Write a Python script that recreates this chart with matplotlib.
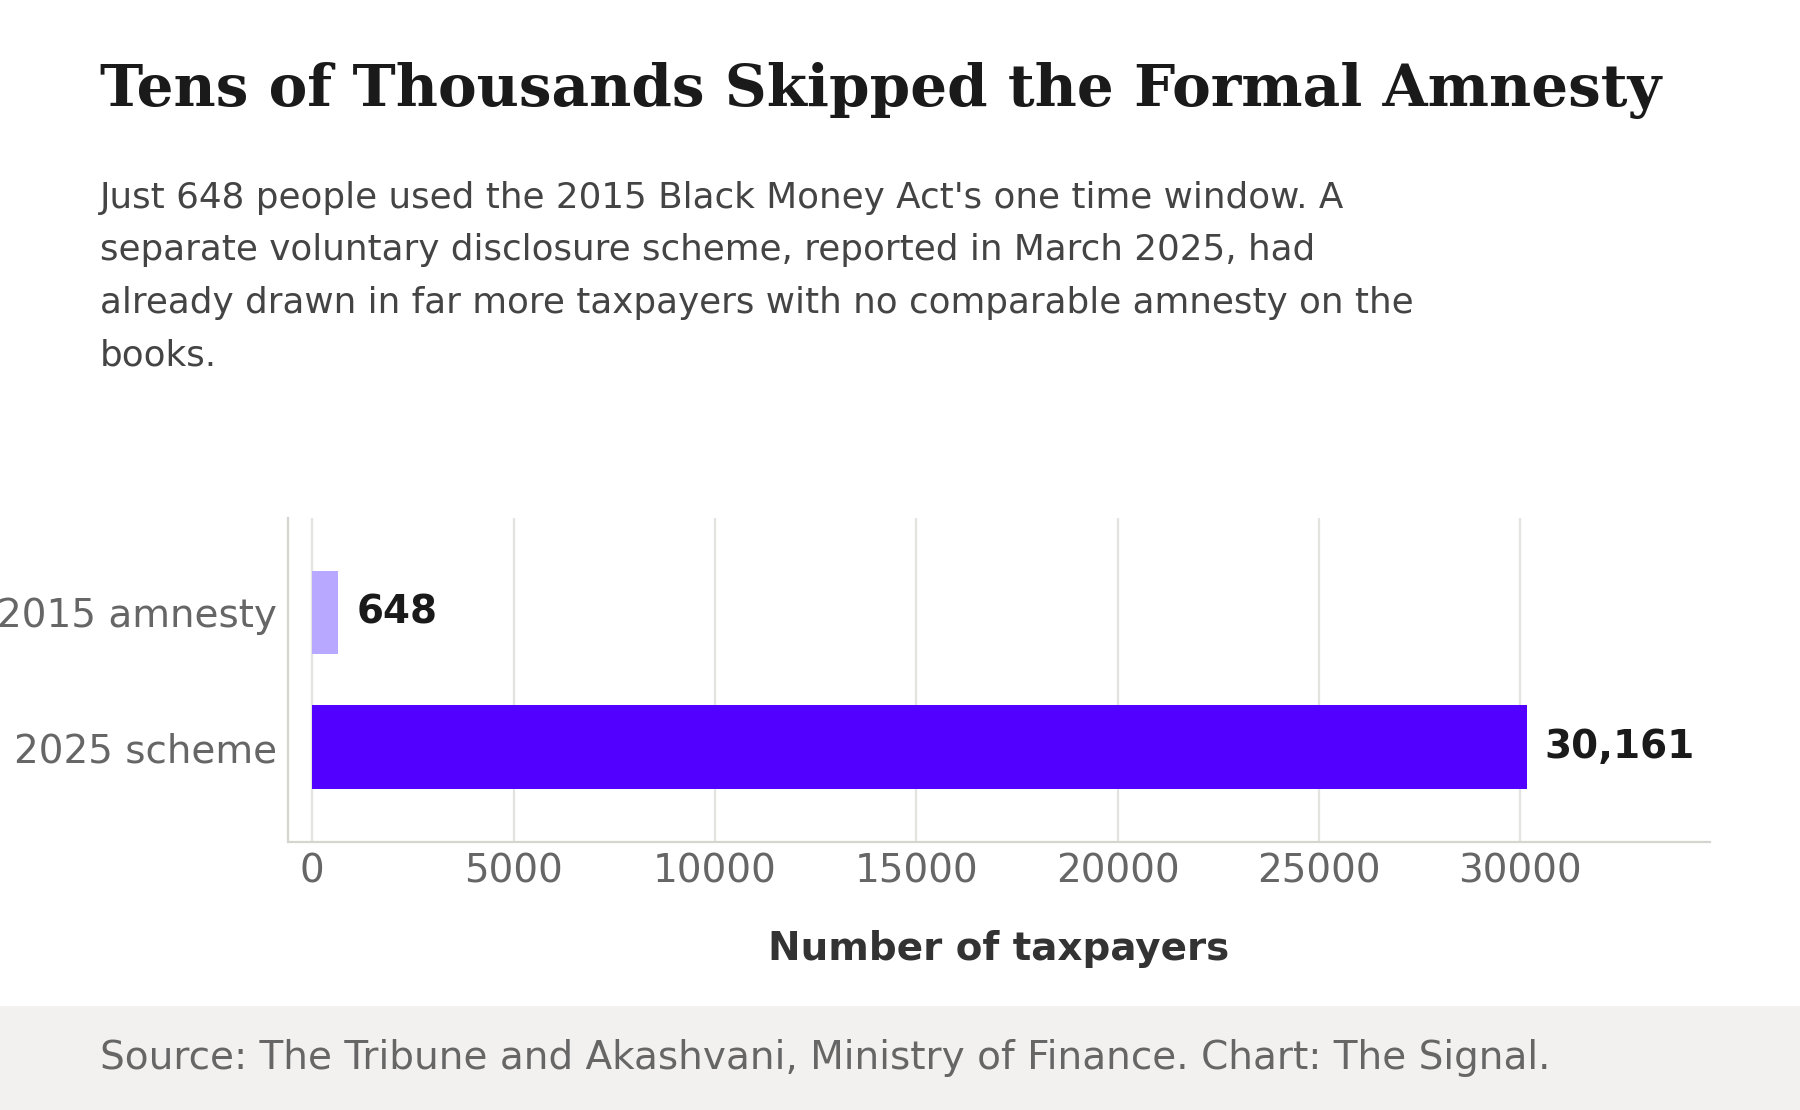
import matplotlib
matplotlib.use("Agg")
import matplotlib.pyplot as plt
from matplotlib.patches import Rectangle

categories = ["2015 amnesty", "2025 scheme"]
values = [648, 30161]
bar_colors = ["#B8A8FF", "#5200FF"]
xticks = [0, 5000, 10000, 15000, 20000, 25000, 30000]

title = "Tens of Thousands Skipped the Formal Amnesty"
subtitle = ("Just 648 people used the 2015 Black Money Act's one time window. A\n"
            "separate voluntary disclosure scheme, reported in March 2025, had\n"
            "already drawn in far more taxpayers with no comparable amnesty on the\n"
            "books.")
xlabel = "Number of taxpayers"
source = "Source: The Tribune and Akashvani, Ministry of Finance. Chart: The Signal."

plt.rcParams['font.family'] = ['DejaVu Sans']

fig = plt.figure(figsize=(9, 5.55), dpi=200)
fig.patch.set_facecolor("white")

# footer band
fig.patches.append(Rectangle((0, 0), 1, (1110 - 1006) / 1110, transform=fig.transFigure,
                             facecolor="#F2F1EF", edgecolor="none", zorder=0))

fig.text(100 / 1800, 1 - 106 / 1110, title, fontsize=20.9, fontweight="bold",
         family="DejaVu Serif", color="#1A1A1A", va="baseline", ha="left")
fig.text(100 / 1800, 1 - 181 / 1110, subtitle, fontsize=12.9, color="#444444",
         va="top", ha="left", linespacing=1.68)
fig.text(100 / 1800, 1 - 1069 / 1110, source, fontsize=14.05, color="#666666",
         va="baseline", ha="left")

ax = fig.add_axes([288 / 1800, 1 - 841.5 / 1110, (1710 - 288) / 1800, (841.5 - 518) / 1110])
ypos = list(range(len(categories)))
ax.barh(ypos, values, height=0.62, color=bar_colors, zorder=3)

vmax = max(values)
for y, v in zip(ypos, values):
    ax.text(v + 0.015 * vmax, y, f"{v:,}", va="center", ha="left", fontsize=14,
            fontweight="bold", color="#1A1A1A", zorder=4)

ax.set_xlim(-0.02 * vmax, 1.151 * vmax)
ax.set_ylim(1.7, -0.7)
ax.set_yticks(ypos)
ax.set_yticklabels(categories)
ax.set_xticks(xticks)
ax.set_xticklabels([str(t) for t in xticks])
ax.tick_params(axis="both", length=0, labelsize=14, labelcolor="#666666")
ax.tick_params(axis="y", pad=4)
ax.tick_params(axis="x", pad=4)
ax.grid(axis="x", color="#E3E3E0", linewidth=0.8, zorder=0)
ax.set_axisbelow(True)
for s in ["top", "right"]:
    ax.spines[s].set_visible(False)
for s in ["left", "bottom"]:
    ax.spines[s].set_color("#D5D5D0")
    ax.spines[s].set_linewidth(0.8)
ax.set_xlabel(xlabel, fontsize=14, fontweight="bold", color="#333333", labelpad=14)

fig.savefig("out.png", dpi=200, facecolor="white")
